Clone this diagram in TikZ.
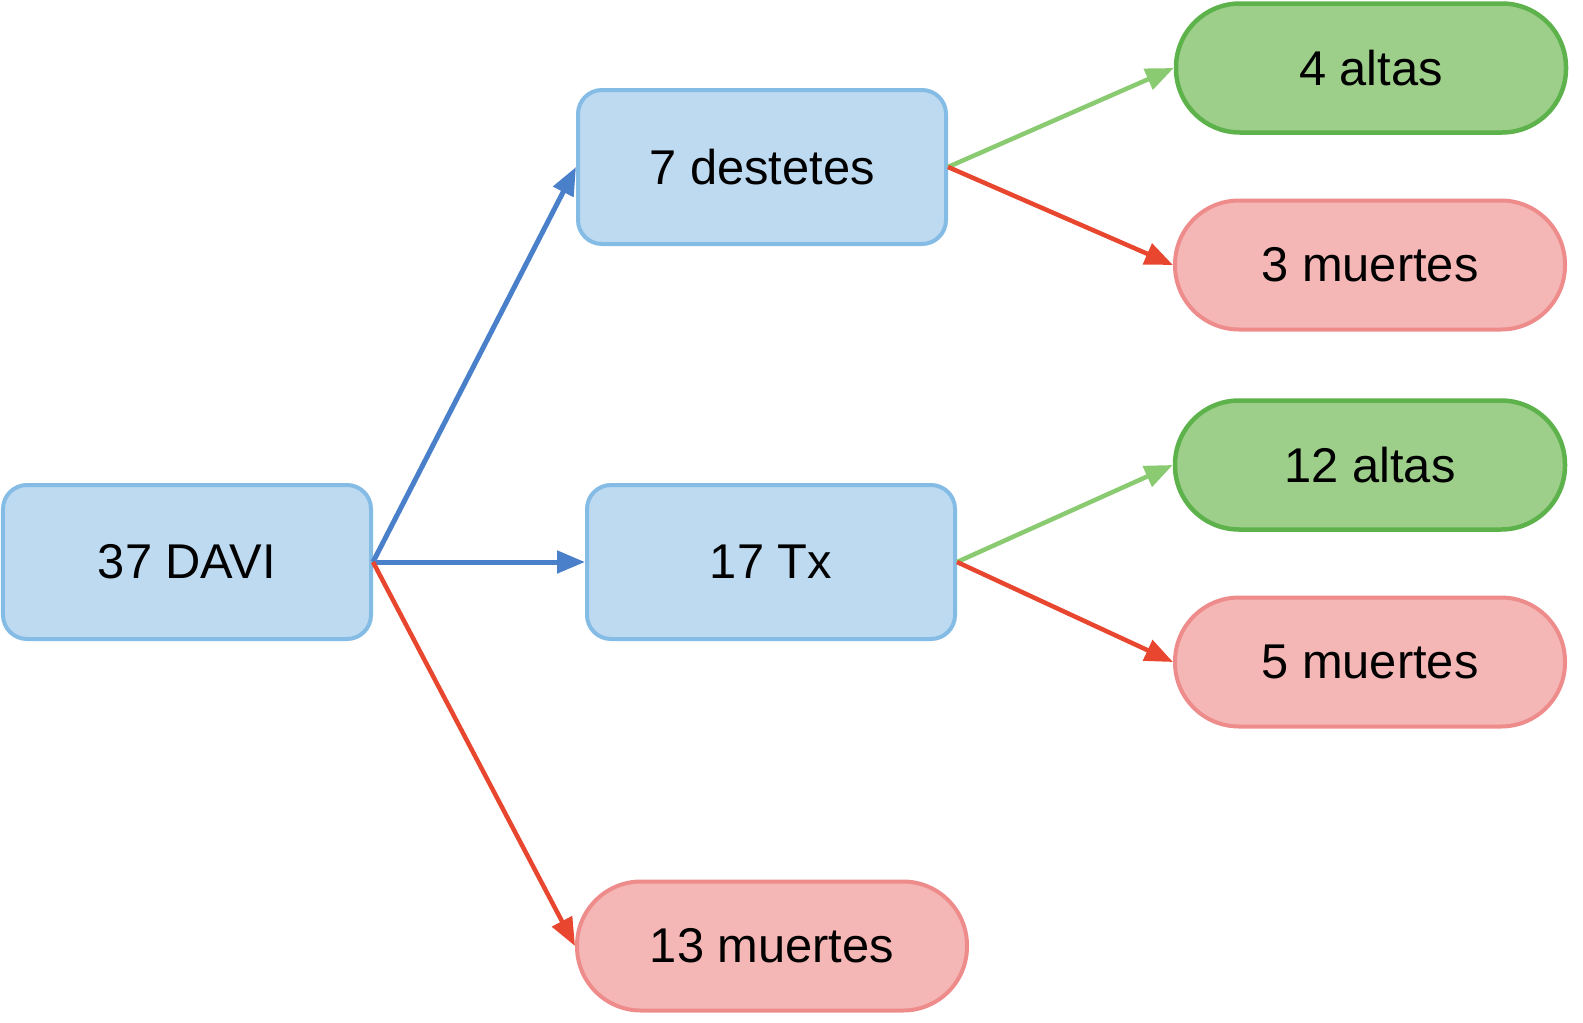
\documentclass[tikz,border=0pt]{standalone}
\usepackage{fontspec}
\setmainfont{Liberation Sans}
\usetikzlibrary{arrows.meta}
\definecolor{bfill}{HTML}{BDDAF0}
\definecolor{bdraw}{HTML}{85BCE6}
\definecolor{barrow}{HTML}{4A80CA}
\definecolor{gfill}{HTML}{9DCF8A}
\definecolor{gdraw}{HTML}{5DB24B}
\definecolor{garrow}{HTML}{8ACB72}
\definecolor{rfill}{HTML}{F5B6B6}
\definecolor{rdraw}{HTML}{EE8C8C}
\definecolor{rarrow}{HTML}{E8462E}
\tikzset{
  txt/.style={font=\fontsize{49}{56}\selectfont},
  boxnode/.style={txt, draw=bdraw, fill=bfill, line width=4bp, rounded corners=24bp,
    minimum width=368bp, minimum height=154bp, inner sep=0pt},
  pillg/.style={txt, draw=gdraw, fill=gfill, line width=4.5bp, rounded corners=64bp,
    minimum width=390bp, minimum height=129bp, inner sep=0pt},
  pillr/.style={txt, draw=rdraw, fill=rfill, line width=4bp, rounded corners=64bp,
    minimum width=390bp, minimum height=129bp, inner sep=0pt},
  ab/.style={draw=barrow, line width=5bp, -{Triangle[length=28bp,width=22bp]}, fill=barrow},
  ag/.style={draw=garrow, line width=4.5bp, -{Triangle[length=28bp,width=22bp]}, fill=garrow},
  ar/.style={draw=rarrow, line width=4.5bp, -{Triangle[length=28bp,width=22bp]}, fill=rarrow},
}
\begin{document}
\begin{tikzpicture}[x=1bp,y=-1bp]
\useasboundingbox (0,0) rectangle (1583,1022);
\node[boxnode] (davi) at (187,562) {37 DAVI};
\node[boxnode] (dest) at (762,167) {7 destetes};
\node[boxnode] (tx) at (771,562) {17 Tx};
\node[pillg] (a4) at (1371,68) {4 altas};
\node[pillr] (m3) at (1370,265) {3 muertes};
\node[pillg] (a12) at (1370,465) {12 altas};
\node[pillr] (m5) at (1370,662) {5 muertes};
\node[pillr] (m13) at (772,946) {13 muertes};
\draw[ab] (davi.east) -- (dest.west);
\draw[ab] (davi.east) -- (tx.west);
\draw[ar] (davi.east) -- (m13.west);
\draw[ag] (dest.east) -- (a4.west);
\draw[ar] (dest.east) -- (m3.west);
\draw[ag] (tx.east) -- (a12.west);
\draw[ar] (tx.east) -- (m5.west);
\end{tikzpicture}
\end{document}
